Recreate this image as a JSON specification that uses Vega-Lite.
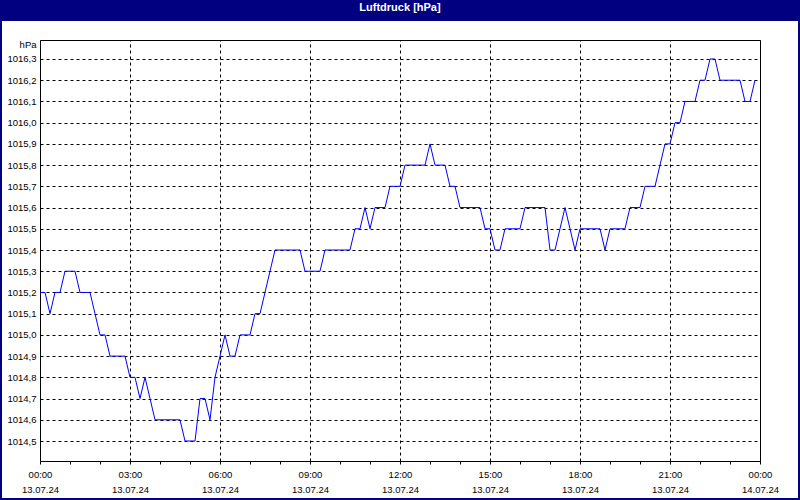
{
  "$schema": "https://vega.github.io/schema/vega-lite/v6.json",
  "autosize": {"type": "none"},
  "padding": {"left": 2, "top": 21, "right": 2, "bottom": 2},
  "width": 796,
  "height": 477,
  "background": "#000080",
  "title": {"text": "Luftdruck [hPa]", "color": "#ffffff", "font": "Liberation Sans", "fontSize": 11, "fontWeight": "bold", "anchor": "middle", "offset": 8},
  "config": {
    "view": {"fill": "#ffffff", "stroke": null},
    "axis": {"labelFont": "Liberation Sans", "labelFontSize": 9.5, "labelColor": "#000000", "titleFont": "Liberation Sans", "titleFontSize": 9.5, "titleColor": "#000000", "titleFontWeight": "normal", "domainColor": "#000000", "tickColor": "#000000", "gridColor": "#000000", "gridDash": [3, 3], "gridOpacity": 1, "domainWidth": 1, "gridWidth": 1}
  },
  "data": {"values": [
    {"t":"2024-07-13T00:00Z","p":1015.2},{"t":"2024-07-13T00:10Z","p":1015.2},{"t":"2024-07-13T00:20Z","p":1015.1},{"t":"2024-07-13T00:30Z","p":1015.2},{"t":"2024-07-13T00:40Z","p":1015.2},{"t":"2024-07-13T00:50Z","p":1015.3},
    {"t":"2024-07-13T01:00Z","p":1015.3},{"t":"2024-07-13T01:10Z","p":1015.3},{"t":"2024-07-13T01:20Z","p":1015.2},{"t":"2024-07-13T01:30Z","p":1015.2},{"t":"2024-07-13T01:40Z","p":1015.2},{"t":"2024-07-13T01:50Z","p":1015.1},
    {"t":"2024-07-13T02:00Z","p":1015.0},{"t":"2024-07-13T02:10Z","p":1015.0},{"t":"2024-07-13T02:20Z","p":1014.9},{"t":"2024-07-13T02:30Z","p":1014.9},{"t":"2024-07-13T02:40Z","p":1014.9},{"t":"2024-07-13T02:50Z","p":1014.9},
    {"t":"2024-07-13T03:00Z","p":1014.8},{"t":"2024-07-13T03:10Z","p":1014.8},{"t":"2024-07-13T03:20Z","p":1014.7},{"t":"2024-07-13T03:30Z","p":1014.8},{"t":"2024-07-13T03:40Z","p":1014.7},{"t":"2024-07-13T03:50Z","p":1014.6},
    {"t":"2024-07-13T04:00Z","p":1014.6},{"t":"2024-07-13T04:10Z","p":1014.6},{"t":"2024-07-13T04:20Z","p":1014.6},{"t":"2024-07-13T04:30Z","p":1014.6},{"t":"2024-07-13T04:40Z","p":1014.6},{"t":"2024-07-13T04:50Z","p":1014.5},
    {"t":"2024-07-13T05:00Z","p":1014.5},{"t":"2024-07-13T05:10Z","p":1014.5},{"t":"2024-07-13T05:20Z","p":1014.7},{"t":"2024-07-13T05:30Z","p":1014.7},{"t":"2024-07-13T05:40Z","p":1014.6},{"t":"2024-07-13T05:50Z","p":1014.8},
    {"t":"2024-07-13T06:00Z","p":1014.9},{"t":"2024-07-13T06:10Z","p":1015.0},{"t":"2024-07-13T06:20Z","p":1014.9},{"t":"2024-07-13T06:30Z","p":1014.9},{"t":"2024-07-13T06:40Z","p":1015.0},{"t":"2024-07-13T06:50Z","p":1015.0},
    {"t":"2024-07-13T07:00Z","p":1015.0},{"t":"2024-07-13T07:10Z","p":1015.1},{"t":"2024-07-13T07:20Z","p":1015.1},{"t":"2024-07-13T07:30Z","p":1015.2},{"t":"2024-07-13T07:40Z","p":1015.3},{"t":"2024-07-13T07:50Z","p":1015.4},
    {"t":"2024-07-13T08:00Z","p":1015.4},{"t":"2024-07-13T08:10Z","p":1015.4},{"t":"2024-07-13T08:20Z","p":1015.4},{"t":"2024-07-13T08:30Z","p":1015.4},{"t":"2024-07-13T08:40Z","p":1015.4},{"t":"2024-07-13T08:50Z","p":1015.3},
    {"t":"2024-07-13T09:00Z","p":1015.3},{"t":"2024-07-13T09:10Z","p":1015.3},{"t":"2024-07-13T09:20Z","p":1015.3},{"t":"2024-07-13T09:30Z","p":1015.4},{"t":"2024-07-13T09:40Z","p":1015.4},{"t":"2024-07-13T09:50Z","p":1015.4},
    {"t":"2024-07-13T10:00Z","p":1015.4},{"t":"2024-07-13T10:10Z","p":1015.4},{"t":"2024-07-13T10:20Z","p":1015.4},{"t":"2024-07-13T10:30Z","p":1015.5},{"t":"2024-07-13T10:40Z","p":1015.5},{"t":"2024-07-13T10:50Z","p":1015.6},
    {"t":"2024-07-13T11:00Z","p":1015.5},{"t":"2024-07-13T11:10Z","p":1015.6},{"t":"2024-07-13T11:20Z","p":1015.6},{"t":"2024-07-13T11:30Z","p":1015.6},{"t":"2024-07-13T11:40Z","p":1015.7},{"t":"2024-07-13T11:50Z","p":1015.7},
    {"t":"2024-07-13T12:00Z","p":1015.7},{"t":"2024-07-13T12:10Z","p":1015.8},{"t":"2024-07-13T12:20Z","p":1015.8},{"t":"2024-07-13T12:30Z","p":1015.8},{"t":"2024-07-13T12:40Z","p":1015.8},{"t":"2024-07-13T12:50Z","p":1015.8},
    {"t":"2024-07-13T13:00Z","p":1015.9},{"t":"2024-07-13T13:10Z","p":1015.8},{"t":"2024-07-13T13:20Z","p":1015.8},{"t":"2024-07-13T13:30Z","p":1015.8},{"t":"2024-07-13T13:40Z","p":1015.7},{"t":"2024-07-13T13:50Z","p":1015.7},
    {"t":"2024-07-13T14:00Z","p":1015.6},{"t":"2024-07-13T14:10Z","p":1015.6},{"t":"2024-07-13T14:20Z","p":1015.6},{"t":"2024-07-13T14:30Z","p":1015.6},{"t":"2024-07-13T14:40Z","p":1015.6},{"t":"2024-07-13T14:50Z","p":1015.5},
    {"t":"2024-07-13T15:00Z","p":1015.5},{"t":"2024-07-13T15:10Z","p":1015.4},{"t":"2024-07-13T15:20Z","p":1015.4},{"t":"2024-07-13T15:30Z","p":1015.5},{"t":"2024-07-13T15:40Z","p":1015.5},{"t":"2024-07-13T15:50Z","p":1015.5},
    {"t":"2024-07-13T16:00Z","p":1015.5},{"t":"2024-07-13T16:10Z","p":1015.6},{"t":"2024-07-13T16:20Z","p":1015.6},{"t":"2024-07-13T16:30Z","p":1015.6},{"t":"2024-07-13T16:40Z","p":1015.6},{"t":"2024-07-13T16:50Z","p":1015.6},
    {"t":"2024-07-13T17:00Z","p":1015.4},{"t":"2024-07-13T17:10Z","p":1015.4},{"t":"2024-07-13T17:20Z","p":1015.5},{"t":"2024-07-13T17:30Z","p":1015.6},{"t":"2024-07-13T17:40Z","p":1015.5},{"t":"2024-07-13T17:50Z","p":1015.4},
    {"t":"2024-07-13T18:00Z","p":1015.5},{"t":"2024-07-13T18:10Z","p":1015.5},{"t":"2024-07-13T18:20Z","p":1015.5},{"t":"2024-07-13T18:30Z","p":1015.5},{"t":"2024-07-13T18:40Z","p":1015.5},{"t":"2024-07-13T18:50Z","p":1015.4},
    {"t":"2024-07-13T19:00Z","p":1015.5},{"t":"2024-07-13T19:10Z","p":1015.5},{"t":"2024-07-13T19:20Z","p":1015.5},{"t":"2024-07-13T19:30Z","p":1015.5},{"t":"2024-07-13T19:40Z","p":1015.6},{"t":"2024-07-13T19:50Z","p":1015.6},
    {"t":"2024-07-13T20:00Z","p":1015.6},{"t":"2024-07-13T20:10Z","p":1015.7},{"t":"2024-07-13T20:20Z","p":1015.7},{"t":"2024-07-13T20:30Z","p":1015.7},{"t":"2024-07-13T20:40Z","p":1015.8},{"t":"2024-07-13T20:50Z","p":1015.9},
    {"t":"2024-07-13T21:00Z","p":1015.9},{"t":"2024-07-13T21:10Z","p":1016.0},{"t":"2024-07-13T21:20Z","p":1016.0},{"t":"2024-07-13T21:30Z","p":1016.1},{"t":"2024-07-13T21:40Z","p":1016.1},{"t":"2024-07-13T21:50Z","p":1016.1},
    {"t":"2024-07-13T22:00Z","p":1016.2},{"t":"2024-07-13T22:10Z","p":1016.2},{"t":"2024-07-13T22:20Z","p":1016.3},{"t":"2024-07-13T22:30Z","p":1016.3},{"t":"2024-07-13T22:40Z","p":1016.2},{"t":"2024-07-13T22:50Z","p":1016.2},
    {"t":"2024-07-13T23:00Z","p":1016.2},{"t":"2024-07-13T23:10Z","p":1016.2},{"t":"2024-07-13T23:20Z","p":1016.2},{"t":"2024-07-13T23:30Z","p":1016.1},{"t":"2024-07-13T23:40Z","p":1016.1},{"t":"2024-07-13T23:50Z","p":1016.2}
  ]},
  "resolve": {"axis": {"x": "independent", "y": "independent"}},
  "layer": [
    {
      "mark": {"type": "line", "strokeOpacity": 0},
      "encoding": {
        "x": {"field": "t", "type": "temporal",
          "scale": {"type": "utc", "domain": [1720828800000, 1720915200000], "range": [38, 758], "nice": false},
          "axis": {"orient": "top", "offset": -19, "title": null, "grid": true, "domain": true, "ticks": false, "labels": false,
            "values": [1720828800000, 1720839600000, 1720850400000, 1720861200000, 1720872000000, 1720882800000, 1720893600000, 1720904400000, 1720915200000]}},
        "y": {"field": "p", "type": "quantitative",
          "scale": {"domain": [1014.4058, 1016.3895], "range": [440, 19], "nice": false, "zero": false},
          "axis": {"orient": "right", "offset": -38, "title": null, "grid": false, "domain": true, "ticks": false, "labels": false}}
      }
    },
    {
      "mark": {"type": "line", "stroke": "#0000ff", "strokeWidth": 1},
      "encoding": {
        "x": {"field": "t", "type": "temporal",
          "axis": {"orient": "bottom", "offset": -37, "title": null, "grid": false, "domain": true, "ticks": true, "tickSize": 3,
            "values": [1720828800000, 1720832400000, 1720836000000, 1720839600000, 1720843200000, 1720846800000, 1720850400000, 1720854000000, 1720857600000, 1720861200000, 1720864800000, 1720868400000, 1720872000000, 1720875600000, 1720879200000, 1720882800000, 1720886400000, 1720890000000, 1720893600000, 1720897200000, 1720900800000, 1720904400000, 1720908000000, 1720911600000, 1720915200000],
            "labelExpr": "utchours(datum.value) % 3 === 0 ? [utcFormat(datum.value, '%H:%M'), utcFormat(datum.value, '%d.%m.%y')] : ''",
            "labelPadding": 5, "labelLineHeight": 15, "labelFlush": false, "labelOverlap": false, "labelBound": false}},
        "y": {"field": "p", "type": "quantitative",
          "axis": {"orient": "left", "offset": -38, "values": [1014.5, 1014.6, 1014.7, 1014.8, 1014.9, 1015.0, 1015.1, 1015.2, 1015.3, 1015.4, 1015.5, 1015.6, 1015.7, 1015.8, 1015.9, 1016.0, 1016.1, 1016.2, 1016.3],
            "labelExpr": "replace(format(datum.value, '.1f'), '.', ',')", "grid": true, "ticks": false, "labelPadding": 4, "domain": true,
            "title": "hPa", "titleAngle": 0, "titleAlign": "right", "titleBaseline": "middle", "titleX": -4, "titleY": 23.5, "labelOverlap": false, "labelFlush": false}}
      }
    }
  ]
}
